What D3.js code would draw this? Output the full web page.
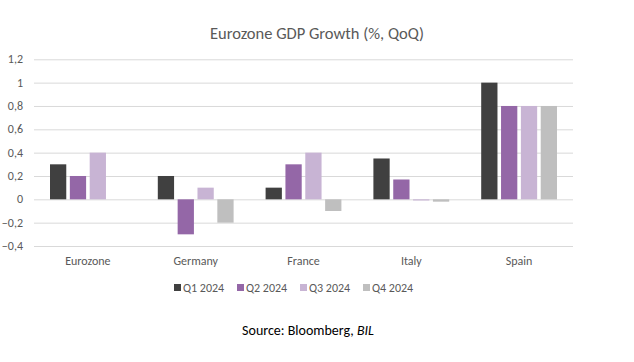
<!DOCTYPE html>
<html>
<head>
<meta charset="utf-8">
<script src="https://cdn.jsdelivr.net/npm/d3@7"></script>
<style>
  body { margin: 0; background: #fff; }
  svg { font-family: Carlito, Calibri, "Open Sans", sans-serif; }
</style>
</head>
<body>
<svg width="634" height="362"></svg>
<script>
let countries = ['Eurozone', 'Germany', 'France', 'Italy', 'Spain']
let quarters = ['Q1 2024', 'Q2 2024', 'Q3 2024', 'Q4 2024']
let q1 = [0.3, 0.2, 0.1, 0.35, 1.0]
let q2 = [0.2, -0.3, 0.3, 0.17, 0.8]
let q3 = [0.4, 0.1, 0.4, -0.01, 0.8]
let q4 = [0, -0.2, -0.1, -0.02, 0.8]
let yTicks = [-0.4, -0.2, 0, 0.2, 0.4, 0.6, 0.8, 1, 1.2]
let colors = ['#404040', '#9467a7', '#c8b4d4', '#bfbfbf']

let series = [q1, q2, q3, q4]

let svg = d3.select('svg')

let x = d3.scaleBand().domain(countries).range([34, 573]).paddingInner(0).paddingOuter(0)
let x1 = d3.scaleBand().domain(quarters).range([16, x.bandwidth() - 16]).paddingInner(0.18)
let y = d3.scaleLinear().domain([-0.4, 1.2]).range([246, 59.3])

let fmt = v => d3.format('.1f')(v).replace('.0', '').replace('.', ',')

// gridlines
svg.append('g')
    .attr('transform', 'translate(34,0)')
    .call(d3.axisLeft(y).tickValues(yTicks).tickSize(-(573 - 34)).tickFormat(''))
    .call(g => g.select('.domain').remove())
    .call(g => g.selectAll('line').attr('stroke', '#d9d9d9').attr('stroke-width', 1))

// y labels
svg.append('g')
    .selectAll('text')
    .data(yTicks)
    .enter()
    .append('text')
    .attr('x', 23)
    .attr('y', d => y(d) + 4)
    .attr('text-anchor', 'end')
    .attr('font-size', 12)
    .attr('fill', '#595959')
    .text(d => fmt(d))

// bars
let groups = svg.selectAll('.grp')
    .data(countries)
    .enter()
    .append('g')
    .attr('transform', d => `translate(${x(d)},0)`)

groups.selectAll('rect')
    .data((d, i) => series.map((s, j) => ({ q: quarters[j], v: s[i], c: colors[j] })))
    .enter()
    .append('rect')
    .attr('x', d => x1(d.q))
    .attr('width', x1.bandwidth())
    .attr('y', d => y(Math.max(0, d.v)))
    .attr('height', d => Math.abs(y(d.v) - y(0)))
    .attr('fill', d => d.c)

// category labels
svg.append('g')
    .selectAll('text')
    .data(countries)
    .enter()
    .append('text')
    .attr('x', d => x(d) + x.bandwidth() / 2)
    .attr('y', 265)
    .attr('text-anchor', 'middle')
    .attr('font-size', 12)
    .attr('fill', '#595959')
    .text(d => d)

// title
svg.append('text')
    .attr('x', 317)
    .attr('y', 39)
    .attr('text-anchor', 'middle')
    .attr('font-size', 16.5)
    .attr('fill', '#595959')
    .text('Eurozone GDP Growth (%, QoQ)')

// legend
let legend = svg.append('g')
    .selectAll('g')
    .data(quarters)
    .enter()
    .append('g')
    .attr('transform', (d, i) => `translate(${174 + i * 63},0)`)

legend.append('rect')
    .attr('x', 0)
    .attr('y', 284)
    .attr('width', 7)
    .attr('height', 7)
    .attr('fill', (d, i) => colors[i])

legend.append('text')
    .attr('x', 9)
    .attr('y', 292)
    .attr('font-size', 12)
    .attr('fill', '#595959')
    .text(d => d)

// source
let src = svg.append('text')
    .attr('x', 308)
    .attr('y', 335)
    .attr('text-anchor', 'middle')
    .attr('font-size', 14)
    .attr('fill', '#000')
src.append('tspan').text('Source: Bloomberg, ')
src.append('tspan').attr('font-style', 'italic').text('BIL')
</script>
</body>
</html>
